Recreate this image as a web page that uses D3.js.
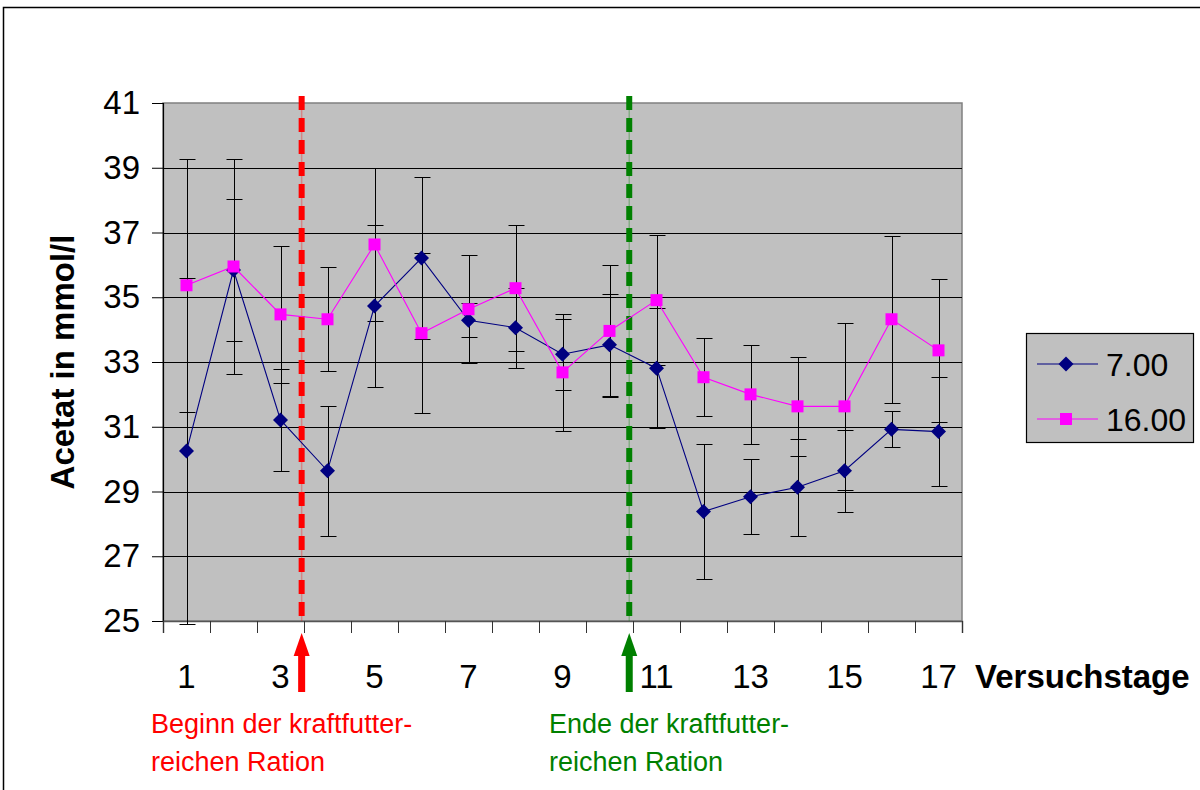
<!DOCTYPE html>
<html>
<head>
<meta charset="utf-8">
<script src="https://cdn.jsdelivr.net/npm/d3@7"></script>
<style>
  html, body { margin: 0; padding: 0; background: #fff; }
  svg { display: block; font-family: "Liberation Sans", Arial, sans-serif; }
</style>
</head>
<body>
<svg id="chart" width="1200" height="790"></svg>
<script>
// Versuchstage (trial days)
const days = [1, 2, 3, 4, 5, 6, 7, 8, 9, 10, 11, 12, 13, 14, 15, 16, 17];
const dayLabels = [1, 3, 5, 7, 9, 11, 13, 15, 17];
const yTicks = [25, 27, 29, 31, 33, 35, 37, 39, 41];

// Acetat (mmol/l), sampling at 7.00
const morning = [30.25, 35.84, 31.21, 29.64, 34.73, 36.21, 34.29, 34.06, 33.24, 33.53, 32.81, 28.38, 28.84, 29.13, 29.64, 30.92, 30.85];
const morningErr = [5.35, 2.2, 1.57, 2.0, 2.5, 2.5, 0.52, 1.23, 1.09, 1.58, 1.86, 2.09, 1.16, 1.49, 1.27, 0.56, 1.68];

// Acetat (mmol/l), sampling at 16.00
const afternoon = [35.37, 35.95, 34.47, 34.32, 36.63, 33.89, 34.63, 35.28, 32.68, 33.96, 34.91, 32.53, 32.0, 31.63, 31.63, 34.32, 33.36];
const afternoonErr = [3.9, 3.32, 2.12, 1.6, 2.35, 2.47, 1.67, 1.95, 1.8, 2.05, 2.0, 1.2, 1.53, 1.53, 2.57, 2.58, 2.21];

const seriesNames = ["7.00", "16.00"];

// Feeding phase markers (position on the day axis) and their notes
const phaseMarks = [
  { at: 3.45, color: "#ff0000", lines: ["Beginn der kraftfutter-", "reichen Ration"] },
  { at: 10.42, color: "#008000", lines: ["Ende der kraftfutter-", "reichen Ration"] }
];

const svg = d3.select("#chart");
const plot = { left: 163, right: 962, top: 103, bottom: 621 };

const x = d3.scaleBand().domain(days).range([plot.left, plot.right]).padding(0);
const xDay = d3.scaleLinear().domain([0.5, days.length + 0.5]).range([plot.left, plot.right]);
const y = d3.scaleLinear().domain([25, 41]).range([plot.bottom, plot.top]);
const cx = d => x(d) + x.bandwidth() / 2;

// outer frame
svg.append("rect")
  .attr("x", 3.5).attr("y", 7.5).attr("width", 1210).attr("height", 800)
  .attr("fill", "none").attr("stroke", "#000").attr("stroke-width", 1.5);

// plot background
svg.append("rect")
  .attr("x", plot.left).attr("y", plot.top)
  .attr("width", plot.right - plot.left).attr("height", plot.bottom - plot.top)
  .attr("fill", "#c0c0c0").attr("stroke", "#808080").attr("stroke-width", 1.5);

// horizontal grid
svg.append("g").selectAll("line")
  .data(yTicks.slice(1, -1))
  .join("line")
  .attr("x1", plot.left).attr("x2", plot.right)
  .attr("y1", d => Math.round(y(d)) + 0.5).attr("y2", d => Math.round(y(d)) + 0.5)
  .attr("stroke", "#000").attr("stroke-width", 1);

// y axis
const yAxis = svg.append("g")
  .attr("transform", `translate(${plot.left},0)`)
  .call(d3.axisLeft(y).tickValues(yTicks).tickSize(11).tickPadding(12).tickFormat(d3.format("d")));
yAxis.select(".domain").attr("stroke", "#000").attr("stroke-width", 1.2);
yAxis.selectAll(".tick line").attr("stroke", "#000");
yAxis.selectAll(".tick text")
  .attr("font-size", 33).attr("fill", "#000")
  .attr("font-family", "'Liberation Sans', Arial, sans-serif");

// x axis: tick marks between days
const xTickAxis = svg.append("g")
  .attr("transform", `translate(0,${plot.bottom})`)
  .call(d3.axisBottom(xDay).tickValues(d3.range(0.5, days.length + 1, 1)).tickSize(12).tickFormat(""));
xTickAxis.select(".domain").attr("stroke", "#555").attr("stroke-width", 1.5);
xTickAxis.selectAll(".tick line").attr("stroke", "#333");

// x axis: day labels centred under each day
const xLabelAxis = svg.append("g")
  .attr("transform", `translate(0,${plot.bottom})`)
  .call(d3.axisBottom(x).tickValues(dayLabels).tickSize(0).tickPadding(0));
xLabelAxis.select(".domain").remove();
xLabelAxis.selectAll(".tick text")
  .attr("font-size", 33).attr("fill", "#000").attr("dy", 0).attr("y", 67)
  .attr("font-family", "'Liberation Sans', Arial, sans-serif");

// axis titles
svg.append("text")
  .attr("transform", `translate(74,${(plot.top + plot.bottom) / 2}) rotate(-90)`)
  .attr("text-anchor", "middle")
  .attr("font-size", 33).attr("font-weight", "bold")
  .text("Acetat in mmol/l");

svg.append("text")
  .attr("x", 975).attr("y", 688)
  .attr("font-size", 33).attr("font-weight", "bold")
  .text("Versuchstage");

// error bars
function drawErrors(values, errs) {
  const g = svg.append("g").attr("stroke", "#000").attr("stroke-width", 1);
  days.forEach((d, i) => {
    const xc = Math.round(cx(d)) + 0.5;
    const hi = Math.round(y(values[i] + errs[i])) + 0.5;
    const lo = Math.round(y(values[i] - errs[i])) + 0.5;
    g.append("line").attr("x1", xc).attr("x2", xc).attr("y1", hi).attr("y2", lo);
    g.append("line").attr("x1", xc - 8).attr("x2", xc + 8).attr("y1", hi).attr("y2", hi);
    g.append("line").attr("x1", xc - 8).attr("x2", xc + 8).attr("y1", lo).attr("y2", lo);
  });
}
drawErrors(morning, morningErr);
drawErrors(afternoon, afternoonErr);

// phase marker lines
phaseMarks.forEach(m => {
  const px = xDay(m.at);
  svg.append("line")
    .attr("x1", px).attr("x2", px).attr("y1", 96).attr("y2", plot.bottom)
    .attr("stroke", m.color).attr("stroke-opacity", 0.3).attr("stroke-width", 1.5);
  svg.append("line")
    .attr("x1", px).attr("x2", px).attr("y1", 96).attr("y2", plot.bottom)
    .attr("stroke", m.color).attr("stroke-width", 6).attr("stroke-dasharray", "14 8");
});

// data lines and markers
const line = d3.line().x((v, i) => cx(days[i])).y(v => y(v));

svg.append("path").datum(morning)
  .attr("d", line).attr("fill", "none").attr("stroke", "#000080").attr("stroke-width", 1.1);
svg.append("g").selectAll("path")
  .data(morning)
  .join("path")
  .attr("transform", (v, i) => `translate(${cx(days[i])},${y(v)})`)
  .attr("d", "M0,-7.5L7.5,0L0,7.5L-7.5,0Z")
  .attr("fill", "#000080");

svg.append("path").datum(afternoon)
  .attr("d", line).attr("fill", "none").attr("stroke", "#ff00ff").attr("stroke-width", 1.1);
svg.append("g").selectAll("rect")
  .data(afternoon)
  .join("rect")
  .attr("x", (v, i) => cx(days[i]) - 6).attr("y", v => y(v) - 6)
  .attr("width", 12).attr("height", 12)
  .attr("fill", "#ff00ff");

// arrows and notes below the axis
phaseMarks.forEach(m => {
  const px = xDay(m.at);
  svg.append("rect")
    .attr("x", px - 3.5).attr("y", 650).attr("width", 7).attr("height", 42)
    .attr("fill", m.color);
  svg.append("path")
    .attr("d", `M${px},633L${px + 8},656L${px - 8},656Z`)
    .attr("fill", m.color);
});

const notes = svg.append("g").attr("font-size", 27);
phaseMarks.forEach((m, k) => {
  const x0 = k === 0 ? 151 : 549;
  m.lines.forEach((t, j) => {
    notes.append("text")
      .attr("x", x0).attr("y", 733 + j * 38)
      .attr("fill", m.color)
      .text(t);
  });
});

// legend
const legend = svg.append("g");
legend.append("rect")
  .attr("x", 1026.5).attr("y", 333.5).attr("width", 167).attr("height", 109)
  .attr("fill", "#c0c0c0").attr("stroke", "#000").attr("stroke-width", 1.2);
const legendRows = [
  { name: seriesNames[0], color: "#000080", shape: "diamond", y: 364 },
  { name: seriesNames[1], color: "#ff00ff", shape: "square", y: 419 }
];
legendRows.forEach(r => {
  legend.append("line")
    .attr("x1", 1037).attr("x2", 1098).attr("y1", r.y).attr("y2", r.y)
    .attr("stroke", r.color).attr("stroke-width", 1.2);
  if (r.shape === "diamond") {
    legend.append("path")
      .attr("transform", `translate(1066,${r.y})`)
      .attr("d", "M0,-7.5L7.5,0L0,7.5L-7.5,0Z")
      .attr("fill", r.color);
  } else {
    legend.append("rect")
      .attr("x", 1060).attr("y", r.y - 6).attr("width", 12).attr("height", 12)
      .attr("fill", r.color);
  }
  legend.append("text")
    .attr("x", 1106).attr("y", r.y + 12)
    .attr("font-size", 32)
    .text(r.name);
});
</script>
</body>
</html>
